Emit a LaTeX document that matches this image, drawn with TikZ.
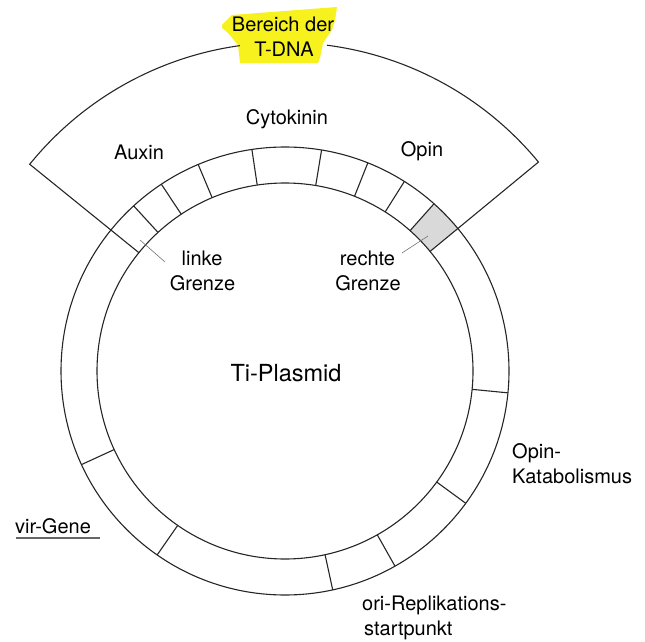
\documentclass[tikz,border=0pt]{standalone}
\usepackage{fontspec}
\setmainfont{TeX Gyre Heros}
\definecolor{hlyellow}{RGB}{247,242,30}
\begin{document}
\begin{tikzpicture}[x=1pt,y=1pt,
  ln/.style={line width=1.1pt, black!85},
  lead/.style={line width=0.6pt, black!55},
  lbl/.style={font=\fontsize{20}{25}\selectfont, inner sep=0pt, anchor=base},
  lblml/.style={font=\fontsize{20}{25}\selectfont, inner sep=0pt},
]
\useasboundingbox (0,0) rectangle (645,641);
% highlight behind title
\fill[hlyellow] (222,616) -- (232,626) -- (337,634) -- (335,621) -- (332,611) -- (323,598)
  -- (320,583) -- (318,578) -- (240,578) -- (238,596) -- (228,608) -- (222,613) -- cycle;
\begin{scope}[shift={(285,270)}]
  % shaded right border segment
  \fill[gray!30] (39.5:188) arc[start angle=39.5,end angle=48.3,radius=188]
     -- (48.3:224) arc[start angle=48.3,end angle=39.5,radius=224] -- cycle;
  % ring
  \draw[ln] (0,0) circle[radius=224];
  \draw[ln] (0,0) circle[radius=188];
  \foreach \a in {132.5,123.5,112.8,98.5,80.6,68.3,57.8,48.3,-5.6,-36.2,-60.6,-77.7,235.2,204.7}
    \draw[ln] (\a:188) -- (\a:224);
  % T-DNA sector
  \draw[ln] (141:188) -- (141:328.5) arc[start angle=141,end angle=97.9,radius=328.5];
  \draw[ln] (39.5:188) -- (39.5:328.5) arc[start angle=39.5,end angle=82.65,radius=328.5];
\end{scope}
% labels
\node[lbl] (bereich) at (283,609) {Bereich der};
\node[lbl] (tdna) at (284,584) {T-DNA};
\node[lbl] (cyto) at (287,516) {Cytokinin};
\node[lbl] (auxin) at (139,481) {Auxin};
\node[lbl] (opin) at (422,484) {Opin};
\node[lbl] (linke) at (202,375) {linke};
\node[lbl] (lgrenze) at (202.5,351) {Grenze};
\node[lbl] (rechte) at (367.5,375) {rechte};
\node[lbl] (rgrenze) at (368,351) {Grenze};
\node[lbl, font=\fontsize{23.5}{28}\selectfont] (ti) at (286,259.5) {Ti-Plasmid};
\node[lbl, anchor=base west] (opinkat1) at (512,183) {Opin-};
\node[lbl, anchor=base west] (opinkat2) at (512,158) {Katabolismus};
\node[lbl] (vir) at (53,108) {vir-Gene};
\node[lbl, anchor=base west] (ori1) at (362,31) {ori-Replikations-};
\node[lbl, anchor=base west] (ori2) at (364,6) {startpunkt};
% underline of vir-Gene
\coordinate (virA) at (16,103);
\coordinate (virB) at (100,103);
\draw[line width=1.2pt, black!60] (virA) -- (virB);
% leader lines
\coordinate (lgA) at (140,401);
\coordinate (lgB) at (165,379);
\coordinate (rgA) at (428,405);
\coordinate (rgB) at (402,388);
\draw[lead] (lgA) -- (lgB);
\draw[lead] (rgA) -- (rgB);
\end{tikzpicture}
\end{document}
